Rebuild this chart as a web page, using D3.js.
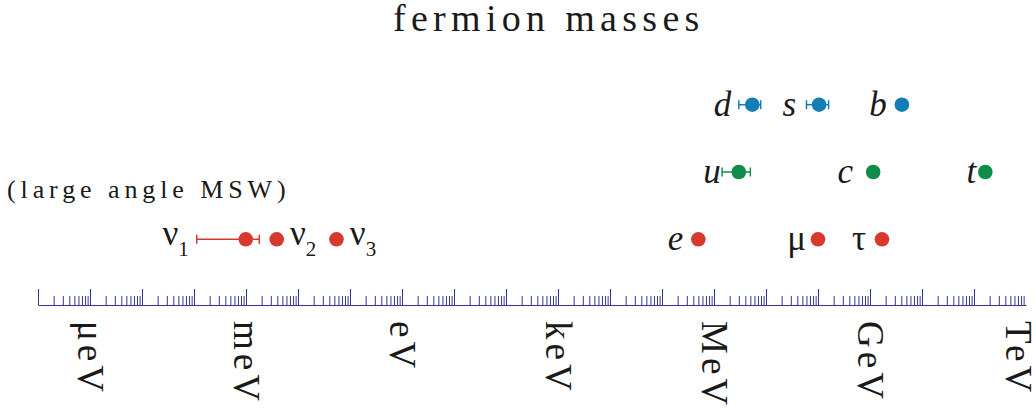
<!DOCTYPE html>
<html>
<head>
<meta charset="utf-8">
<script src="https://cdn.jsdelivr.net/npm/d3@7"></script>
</head>
<body style="margin:0">
<svg width="1035" height="410"></svg>
<script>
// masses in eV
var rowNames = ["down", "up", "lepton"];

var downNames = ["d", "s", "b"];
var downMass = [5.45e6, 1.05e8, 4.1e9];
var downLow = [3.0e6, 6.0e7, null];
var downHigh = [7.9e6, 1.6e8, null];

var upNames = ["u", "c", "t"];
var upMass = [3.0e6, 1.15e9, 1.65e11];
var upLow = [1.43e6, null, null];
var upHigh = [5.0e6, null, null];

var leptonNames = ["e", "μ", "τ"];
var leptonMass = [5.0e5, 1.0e8, 1.7e9];

var nuNames = ["1", "2", "3"];
var nuMass = [9.9e-4, 3.9e-3, 5.5e-2];
var nuLow = [1.13e-4, null, null];
var nuHigh = [1.8e-3, null, null];

var unitLabels = ["μeV", "meV", "eV", "keV", "MeV", "GeV", "TeV"];
var unitValues = [1e-6, 1e-3, 1, 1e3, 1e6, 1e9, 1e12];

// layout
var colors = { down: "#137db6", up: "#0f8c48", lepton: "#d8392f" };
var labelOffset = { d: 21, s: 23, b: 15, u: 18, c: 20, t: 9, e: 15, "μ": 12, "τ": 16 };
var r = 7.3, axisY = 305;

var svg = d3.select("svg");

var x = d3.scaleLog().domain([1e-7, 1e12]).range([38, 1026]);
var y = d3.scalePoint().domain(rowNames).range([104.7, 239.3]);

// axis: major ticks each decade, minors 2..9
var majors = [], minors = [];
for (var p = -7; p < 12; p++) {
    majors.push(Math.pow(10, p));
    for (var k = 2; k <= 9; k++) minors.push(k * Math.pow(10, p));
}

var axisColor = "#35359a";
var gMinor = svg.append("g")
    .attr("transform", "translate(0," + axisY + ")")
    .call(d3.axisTop(x).tickValues(minors).tickFormat("").tickSize(9).tickSizeOuter(0));
var gMajor = svg.append("g")
    .attr("transform", "translate(0," + axisY + ")")
    .call(d3.axisTop(x).tickValues(majors).tickFormat("").tickSize(16).tickSizeOuter(0));
svg.selectAll(".domain, .tick line").attr("stroke", axisColor).attr("stroke-width", 1);
gMinor.select(".domain").remove();

function txt(sel, size) {
    return sel.append("text")
        .attr("font-size", size)
        .style("font-family", "'Liberation Serif'")
        .attr("fill", "#1a1a1a");
}

// unit labels, rotated
unitLabels.forEach(function(lab, i) {
    var bx = Math.min(x(unitValues[i]) - 12.5, 1006);
    txt(svg, 37)
        .attr("transform", "translate(" + bx + ",321) rotate(90)")
        .attr("letter-spacing", 4)
        .text(lab);
});

// title and note
txt(svg, 38)
    .attr("x", 393).attr("y", 31)
    .attr("letter-spacing", 5.3)
    .text("fermion masses");

txt(svg, 26)
    .attr("x", 7).attr("y", 198)
    .attr("letter-spacing", 4.9)
    .text("(large angle MSW)");

function errorBar(g, lo, hi, cy, color) {
    g.append("line")
        .attr("x1", x(lo)).attr("x2", x(hi))
        .attr("y1", cy).attr("y2", cy)
        .attr("stroke", color).attr("stroke-width", 1.5);
    [lo, hi].forEach(function(v) {
        g.append("line")
            .attr("x1", x(v)).attr("x2", x(v))
            .attr("y1", cy - 4.5).attr("y2", cy + 4.5)
            .attr("stroke", color).attr("stroke-width", 1.5);
    });
}

function drawRow(row, names, mass, low, high, italic) {
    var g = svg.append("g"), cy = y(row), color = colors[row];
    names.forEach(function(n, i) {
        if (low && low[i] != null) errorBar(g, low[i], high[i], cy, color);
        g.append("circle")
            .attr("cx", x(mass[i])).attr("cy", cy).attr("r", r)
            .attr("fill", color);
        txt(g, 35)
            .attr("x", x(mass[i]) - labelOffset[n])
            .attr("y", cy + 11)
            .attr("text-anchor", "end")
            .style("font-style", italic ? "italic" : "normal")
            .text(n);
    });
}

drawRow("down", downNames, downMass, downLow, downHigh, true);
drawRow("up", upNames, upMass, upLow, upHigh, true);
drawRow("lepton", leptonNames.slice(0, 1), leptonMass.slice(0, 1), null, null, true);

// mu and tau are upright greek
var gl = svg.append("g"), ly = y("lepton");
leptonNames.slice(1).forEach(function(n, j) {
    var m = leptonMass[j + 1];
    gl.append("circle").attr("cx", x(m)).attr("cy", ly).attr("r", r).attr("fill", colors.lepton);
    txt(gl, 35)
        .attr("x", x(m) - labelOffset[n]).attr("y", ly + 11)
        .attr("text-anchor", "end")
        .text(n);
});

// neutrinos
var gn = svg.append("g");
nuNames.forEach(function(n, i) {
    var cx = x(nuMass[i]);
    if (nuLow[i] != null) errorBar(gn, nuLow[i], nuHigh[i], ly, colors.lepton);
    gn.append("circle").attr("cx", cx).attr("cy", ly).attr("r", r).attr("fill", colors.lepton);
    var t = txt(gn, 35).attr("y", ly + 6);
    if (nuLow[i] != null) {
        t.attr("x", x(nuLow[i]) - 8).attr("text-anchor", "end");
    } else {
        t.attr("x", cx + r + 6);
    }
    t.append("tspan").text("ν");
    t.append("tspan").attr("dy", 11).attr("font-size", 21).text(n);
});
</script>
</body>
</html>
